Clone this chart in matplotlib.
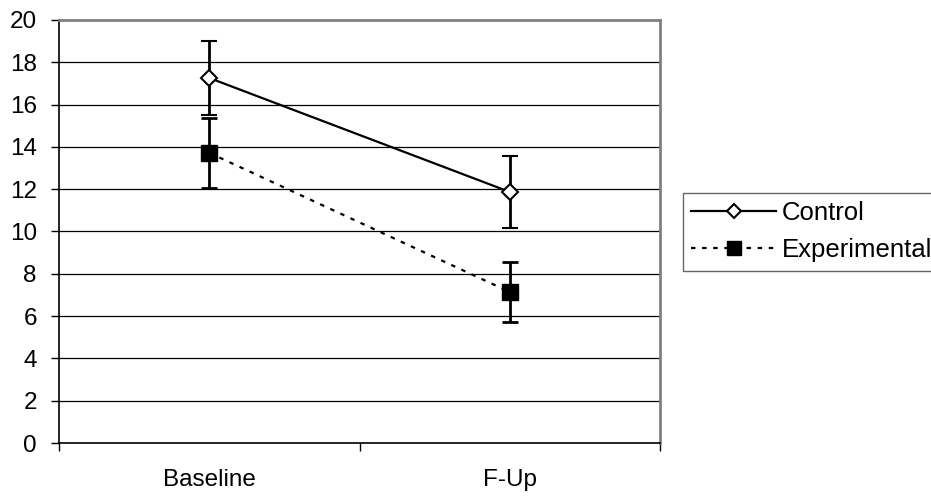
import matplotlib
matplotlib.use("Agg")
import matplotlib.pyplot as plt
from matplotlib.lines import Line2D

plt.rcParams['font.family'] = ['Liberation Sans', 'DejaVu Sans']

categories = ["Baseline", "F-Up"]
control_mean = [17.26, 11.87]
control_err = [1.74, 1.70]
experimental_mean = [13.72, 7.14]
experimental_err = [1.67, 1.40]
y_ticks = [0, 2, 4, 6, 8, 10, 12, 14, 16, 18, 20]
series_names = ["Control", "Experimental"]

FS = 17.5
LEG_FS = 18.5
DASH = (0, (2, 3))

fig = plt.figure(figsize=(9.31, 4.99), dpi=100)
ax = fig.add_axes([59 / 931, 1 - 443 / 499, 601 / 931, 423 / 499])

x = [0.5, 1.5]
for y in y_ticks[1:-1]:
    ax.axhline(y, color="black", lw=0.9, zorder=0)

ax.errorbar(x, control_mean, yerr=control_err, color="black", lw=1.6,
            ls="-", marker="D", ms=8.5, mfc="white", mec="black", mew=1.5,
            capsize=6, capthick=2, elinewidth=2, zorder=3)
ax.errorbar(x, experimental_mean, yerr=experimental_err, color="black", lw=1.6,
            ls=DASH, marker="s", ms=11, mfc="black", mec="black",
            capsize=6, capthick=2, elinewidth=2, zorder=3)

ax.set_xlim(0, 2)
ax.set_ylim(0, 20)
ax.set_yticks(y_ticks)
ax.set_xticks([0, 1, 2])
ax.set_xticklabels([])
ax.set_xticks(x, minor=True)
ax.set_xticklabels(categories, minor=True)
ax.tick_params(axis="x", which="minor", length=0, pad=19, labelsize=FS)
ax.tick_params(axis="x", which="major", length=6, direction="out", width=1)
ax.tick_params(axis="y", length=6, direction="out", width=1, labelsize=FS, pad=10)

for side in ("top", "right"):
    ax.spines[side].set_color("#808080")
    ax.spines[side].set_linewidth(2)
for side in ("left", "bottom"):
    ax.spines[side].set_color("black")
    ax.spines[side].set_linewidth(1.2)

handles = [
    Line2D([], [], color="black", lw=1.6, marker="D", ms=7.5, mfc="white", mec="black", mew=1.5),
    Line2D([], [], color="black", lw=1.6, ls=DASH, marker="s", ms=10, mfc="black", mec="black"),
]
leg = fig.legend(handles, series_names, loc="upper left",
                 bbox_to_anchor=(683 / 931, 1 - 193 / 499), frameon=True,
                 fancybox=False, edgecolor="#404040", fontsize=LEG_FS,
                 handlelength=3.3, handletextpad=0.2, borderpad=0.33,
                 labelspacing=0.5, borderaxespad=0)
leg.get_frame().set_linewidth(1.0)

fig.savefig("out.png", dpi=100)
